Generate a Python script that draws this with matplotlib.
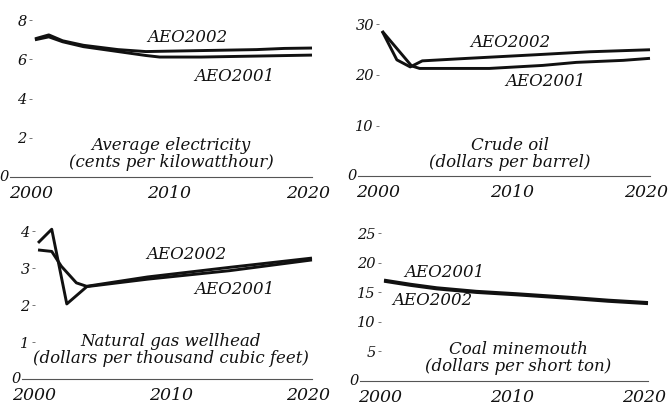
import matplotlib
matplotlib.use("Agg")
import matplotlib.pyplot as plt
from matplotlib.transforms import ScaledTranslation

# Average electricity price, cents per kilowatthour
elec_years_02 = [2000, 2001, 2002, 2003.5, 2006, 2008, 2012, 2016, 2018, 2020]
elec_aeo2002 = [7.05, 7.25, 6.95, 6.72, 6.5, 6.4, 6.45, 6.5, 6.56, 6.58]
elec_years_01 = [2000, 2001, 2002, 2003.5, 2006, 2008, 2009, 2012, 2016, 2020]
elec_aeo2001 = [7.0, 7.15, 6.9, 6.65, 6.4, 6.2, 6.12, 6.12, 6.17, 6.22]

# Crude oil, dollars per barrel
crude_years_02 = [2000, 2001.1, 2002.1, 2003, 2006.4, 2011.4, 2015.5, 2020]
crude_aeo2002 = [28.7, 23.0, 21.6, 22.8, 23.3, 24.0, 24.6, 25.0]
crude_years_01 = [2000, 2002.2, 2002.8, 2008, 2012, 2014.5, 2018, 2020]
crude_aeo2001 = [28.7, 21.8, 21.3, 21.3, 21.9, 22.5, 22.9, 23.3]

# Natural gas wellhead, dollars per thousand cubic feet
gas_years_02 = [2000, 2001, 2002.1, 2003.6, 2008, 2014, 2020]
gas_aeo2002 = [3.68, 4.05, 2.03, 2.51, 2.76, 3.02, 3.27]
gas_years_01 = [2000, 2001, 2001.7, 2002.8, 2003.6, 2008, 2014, 2020]
gas_aeo2001 = [3.49, 3.45, 3.05, 2.6, 2.5, 2.7, 2.93, 3.22]

# Coal minemouth, dollars per short ton
coal_years = [2000, 2002, 2004, 2007, 2010, 2014, 2017, 2020]
coal_aeo2001 = [17.1, 16.4, 15.8, 15.2, 14.8, 14.2, 13.7, 13.3]
coal_aeo2002 = [16.9, 16.2, 15.6, 15.0, 14.6, 14.0, 13.5, 13.1]

year_ticks = [2000, 2010, 2020]

W, H = 671, 409
FONT = "DejaVu Serif"
INK = "#111111"


def box(left, top, right, bottom):
    """Pixel box -> figure fraction rect."""
    return [left / W, 1 - bottom / H, (right - left) / W, (bottom - top) / H]


def draw_panel(fig, ax, x0, ylim, yticks, series, labels, title, title_xy):
    ax.set_xlim(x0, 2020)
    ax.set_ylim(*ylim)
    for years, vals in series:
        ax.plot(years, vals, color=INK, lw=2.1, solid_capstyle="butt",
                solid_joinstyle="round", clip_on=False)

    for side in ("top", "right"):
        ax.spines[side].set_visible(False)
    ax.spines["bottom"].set_color("#555555")
    ax.spines["bottom"].set_linewidth(0.8)
    ax.spines["left"].set_position(("data", 1999.8))
    ax.spines["left"].set_visible(False)

    ax.set_xticks(year_ticks)
    ax.set_xticklabels([str(y) for y in year_ticks])
    ax.tick_params(axis="x", length=0, pad=6)
    ax.set_yticks(yticks)
    ax.set_yticklabels([f"{t:g}" for t in yticks])
    ax.tick_params(axis="y", length=2.5, width=0.7, color="#777777", pad=1.5)

    shift = ScaledTranslation(-0.04, 0, fig.dpi_scale_trans)
    for lab in ax.get_xticklabels():
        lab.set_fontsize(12.5)
        lab.set_transform(lab.get_transform() + shift)
    for lab in ax.get_yticklabels():
        lab.set_fontsize(10.5)
    for lab in ax.get_xticklabels() + ax.get_yticklabels():
        lab.set_fontfamily(FONT)
        lab.set_fontstyle("italic")
        lab.set_color(INK)

    ax.annotate("0", (x0, 0), xytext=(-1, 0), textcoords="offset points",
                ha="right", va="center", fontsize=10.5, family=FONT,
                style="italic", color=INK, annotation_clip=False)

    for text, x, y in labels:
        ax.text(x, y, text, ha="center", va="center", fontsize=12,
                family=FONT, style="italic", color=INK)

    ax.text(title_xy[0], title_xy[1], title, transform=ax.transAxes,
            ha="center", va="center", fontsize=12, family=FONT,
            style="italic", color=INK, linespacing=0.98)


fig = plt.figure(figsize=(W / 100, H / 100), dpi=100)
fig.patch.set_facecolor("white")

ax_elec = fig.add_axes(box(10, 10.4, 312, 177))
draw_panel(
    fig, ax_elec, 1998.2, (0, 8.5), [2, 4, 6, 8],
    [(elec_years_02, elec_aeo2002), (elec_years_01, elec_aeo2001)],
    [("AEO2002", 2011.0, 7.14), ("AEO2001", 2014.4, 5.15)],
    "Average electricity\n(cents per kilowatthour)", (0.533, 0.138),
)

ax_crude = fig.add_axes(box(358, 14.4, 650, 176))
draw_panel(
    fig, ax_crude, 1998.2, (0, 32), [10, 20, 30],
    [(crude_years_02, crude_aeo2002), (crude_years_01, crude_aeo2001)],
    [("AEO2002", 2009.6, 26.5), ("AEO2001", 2012.2, 18.8)],
    "Crude oil\n(dollars per barrel)", (0.52, 0.136),
)

ax_gas = fig.add_axes(box(22, 220, 312, 379))
draw_panel(
    fig, ax_gas, 1998.83, (0, 4.3), [1, 2, 3, 4],
    [(gas_years_02, gas_aeo2002), (gas_years_01, gas_aeo2001)],
    [("AEO2002", 2010.8, 3.38), ("AEO2001", 2014.3, 2.43)],
    "Natural gas wellhead\n(dollars per thousand cubic feet)", (0.514, 0.182),
)

ax_coal = fig.add_axes(box(360, 224.6, 648, 381))
draw_panel(
    fig, ax_coal, 1998.18, (0, 26.5), [5, 10, 15, 20, 25],
    [(coal_years, coal_aeo2001), (coal_years, coal_aeo2002)],
    [("AEO2001", 2004.6, 18.3), ("AEO2002", 2003.7, 13.56)],
    "Coal minemouth\n(dollars per short ton)", (0.549, 0.147),
)

fig.savefig("out.png", dpi=100, facecolor="white")
